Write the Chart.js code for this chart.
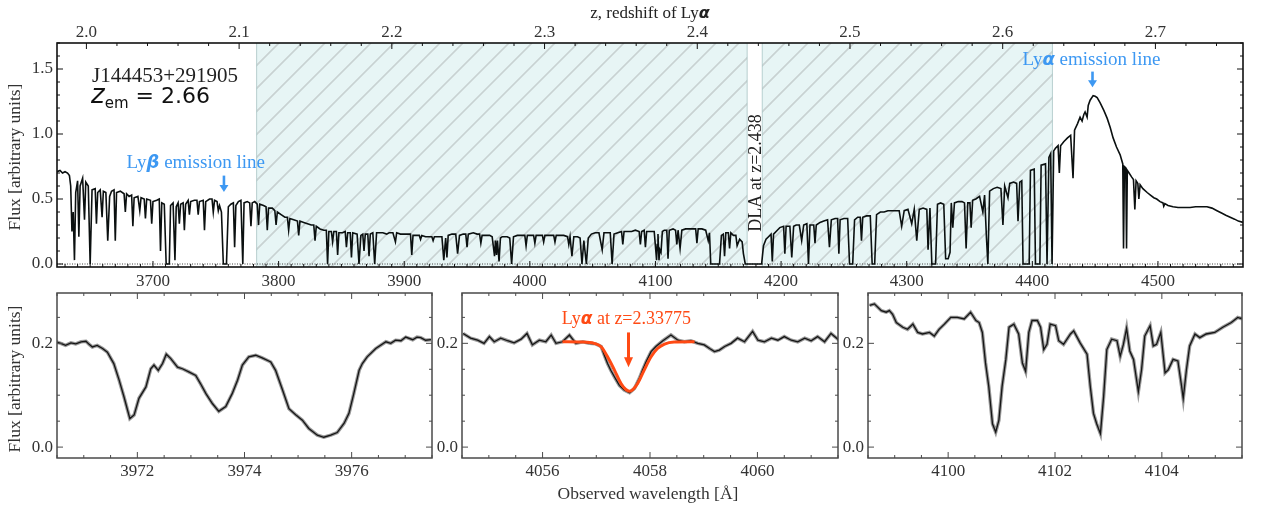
<!DOCTYPE html>
<html><head><meta charset="utf-8">
<script src="https://cdn.jsdelivr.net/npm/chart.js@4.4.0/dist/chart.umd.min.js"></script>
<style>
html,body{margin:0;padding:0;background:#fff;}
#wrap{position:relative;width:1264px;height:509px;overflow:hidden;}
canvas{position:absolute;left:0;top:0;}
</style></head><body>
<div id="wrap">
<canvas id="c0" width="1264" height="509"></canvas>
<canvas id="c1" width="1264" height="509"></canvas>
<canvas id="c2" width="1264" height="509"></canvas>
<canvas id="c3" width="1264" height="509"></canvas>
</div>
<script>
// ---------------- DATA ----------------
const LYA_REST = 1215.67;
const topRange = [3623.6, 4567.7];
const topFluxRange = [-0.023, 1.70];
const topWaveTicks = [3700, 3800, 3900, 4000, 4100, 4200, 4300, 4400, 4500];
const topFluxTicks = [0.0, 0.5, 1.0, 1.5];
const zTicks = [2.0, 2.1, 2.2, 2.3, 2.4, 2.5, 2.6, 2.7];
const lyaForestRegions = [[3782.5, 4173], [4185, 4416]];
const zeroLevel = [[3623.6, 0], [4567.7, 0]];

const topSpectrum = [
[3623.6,0.71],[3626,0.72],[3628,0.70],[3630,0.71],[3632,0.70],[3633.5,0.68],[3634.5,0.60],[3635.5,0.25],[3636.5,0.40],[3637.5,0.03],
[3638.5,0.55],[3640,0.64],[3641,0.21],[3642,0.60],[3644,0.66],[3645.5,0.34],[3646.5,0.63],[3648.5,0.60],[3650,0.0],[3651.5,0.57],
[3654,0.58],[3655,0.31],[3656,0.55],[3658,0.57],[3659.5,0.36],[3660.5,0.56],[3662.5,0.55],[3664,0.18],[3665.5,0.52],[3667,0.56],
[3669,0.57],[3670,0.18],[3671,0.55],[3674,0.56],[3677,0.54],[3678,0.40],[3679,0.54],[3681,0.52],[3683,0.53],[3684,0.29],
[3685,0.51],[3688,0.52],[3689.5,0.41],[3690.5,0.51],[3693,0.50],[3694,0.35],[3695,0.50],[3698,0.49],[3699,0.31],[3700,0.48],
[3703,0.49],[3705,0.50],[3706,0.10],[3707,0.47],[3709,0.46],[3710.5,0.0],[3713,0.0],[3714,0.45],[3716,0.47],[3717.5,0.03],
[3718.5,0.44],[3720,0.47],[3721,0.31],[3722,0.46],[3724,0.47],[3725,0.26],[3726,0.46],[3728,0.49],[3729,0.38],[3730,0.48],
[3733,0.49],[3735,0.49],[3736,0.38],[3737,0.48],[3740,0.49],[3741,0.26],[3742,0.48],[3745,0.50],[3747,0.50],[3748,0.40],
[3749,0.49],[3751,0.48],[3752,0.41],[3753,0.45],[3754.5,0.40],[3756,0.0],[3758.5,0.0],[3760,0.44],[3762,0.46],[3764,0.47],
[3765,0.13],[3766,0.45],[3768,0.48],[3770,0.49],[3771.5,0.0],[3772.5,0.47],[3775,0.48],[3777,0.47],[3778,0.29],[3779,0.47],
[3781,0.48],[3783,0.46],[3784,0.30],[3785,0.46],[3788,0.45],[3790,0.44],[3791,0.26],[3792,0.43],[3795,0.43],[3797,0.41],
[3798,0.30],[3799,0.40],[3802,0.38],[3805,0.36],[3807,0.36],[3808,0.26],[3809,0.35],[3812,0.34],[3815,0.33],[3816,0.22],
[3817,0.33],[3820,0.32],[3823,0.31],[3826,0.30],[3828,0.30],[3829,0.18],[3830,0.29],[3833,0.27],[3836,0.26],[3838,0.26],
[3839,0.0],[3840,0.25],[3842,0.25],[3843,0.17],[3844,0.25],[3846,0.25],[3847,0.07],[3848,0.24],[3851,0.24],[3853,0.25],
[3854,0.13],[3855,0.24],[3857,0.24],[3858,0.05],[3859,0.24],[3862.5,0.23],[3864,0.0],[3865.5,0.22],[3867,0.23],[3868,0.10],
[3869,0.23],[3871,0.23],[3872,0.06],[3873,0.23],[3875,0.24],[3876.5,0.0],[3878,0.24],[3880,0.24],[3883,0.24],[3886,0.23],
[3888,0.24],[3891,0.24],[3893,0.17],[3894,0.24],[3897,0.23],[3900,0.23],[3903,0.23],[3905,0.23],[3906,0.07],[3907,0.22],
[3910,0.22],[3912,0.22],[3913,0.19],[3914,0.22],[3917,0.21],[3920,0.21],[3922,0.21],[3923,0.18],[3924,0.21],[3927,0.21],
[3930,0.21],[3931.5,0.03],[3933,0.20],[3934,0.05],[3935,0.22],[3938,0.23],[3941,0.23],[3942.5,0.08],[3944,0.22],[3947,0.23],
[3949,0.23],[3950,0.13],[3951,0.23],[3955,0.24],[3958,0.23],[3960,0.23],[3961,0.16],[3962,0.22],[3965,0.22],[3968,0.22],
[3970,0.21],[3971.9,0.06],[3972.6,0.18],[3973.5,0.07],[3974.2,0.18],[3975.5,0.02],[3976.6,0.20],[3978,0.21],[3980,0.21],[3982,0.21],
[3984,0.20],[3985.5,0.0],[3987,0.21],[3990,0.22],[3993,0.22],[3996,0.22],[3997,0.14],[3998,0.22],[4001,0.22],[4003,0.22],
[4004,0.16],[4005,0.22],[4008,0.22],[4010,0.22],[4011,0.17],[4012,0.22],[4016,0.22],[4019,0.22],[4020,0.17],[4021,0.22],
[4024,0.22],[4027,0.22],[4030,0.21],[4031,0.15],[4032,0.21],[4033.5,0.06],[4035,0.21],[4038,0.21],[4040,0.20],[4041.5,0.0],
[4043,0.18],[4045,0.0],[4046.5,0.20],[4049,0.23],[4052,0.24],[4055,0.24],[4057.6,0.11],[4059,0.24],[4062,0.24],[4064,0.24],
[4065.5,0.0],[4067,0.23],[4070,0.24],[4073,0.25],[4074,0.15],[4075,0.25],[4078,0.25],[4081,0.25],[4084,0.26],[4087,0.25],
[4088,0.15],[4089,0.25],[4091,0.26],[4092,0.13],[4093,0.25],[4095,0.25],[4097,0.25],[4099,0.25],[4100.9,0.03],[4101.4,0.15],
[4102,0.23],[4102.8,0.03],[4103.5,0.11],[4104.4,0.09],[4105.5,0.25],[4107,0.26],[4109,0.26],[4110,0.04],[4111,0.26],[4114,0.27],
[4116,0.26],[4117,0.15],[4118,0.26],[4119.6,0.12],[4121,0.26],[4124,0.27],[4127,0.27],[4130,0.27],[4132,0.27],[4133,0.16],
[4134,0.27],[4137,0.27],[4140,0.26],[4142,0.18],[4143,0.24],[4144,0.0],[4151,0.0],[4152.5,0.22],[4154,0.23],[4155,0.06],
[4156,0.24],[4158,0.24],[4159,0.12],[4160,0.24],[4162,0.22],[4164,0.22],[4165,0.14],[4167,0.19],[4169,0.17],[4170,0.08],
[4171.5,0.0],[4184.5,0.0],[4186,0.14],[4188,0.19],[4190,0.21],[4192,0.23],[4193,0.02],[4194,0.23],[4197,0.26],[4199,0.28],
[4202,0.29],[4203,0.08],[4204,0.29],[4207,0.29],[4208.5,0.05],[4210,0.29],[4212,0.30],[4214.5,0.30],[4216.4,0.18],[4218,0.30],
[4220.5,0.31],[4221.8,0.0],[4223,0.30],[4226,0.30],[4227,0.16],[4228,0.30],[4231,0.32],[4234,0.33],[4237,0.34],[4238.5,0.13],
[4240,0.34],[4243,0.35],[4245,0.35],[4246,0.08],[4247,0.34],[4250,0.35],[4253,0.35],[4254.5,0.0],[4257,0.0],[4258.5,0.34],
[4261,0.36],[4263,0.36],[4264,0.18],[4265,0.36],[4268,0.37],[4271,0.37],[4272.5,0.0],[4274.5,0.0],[4276,0.38],[4279,0.40],
[4282,0.40],[4285,0.41],[4288,0.41],[4291,0.41],[4294,0.41],[4296,0.29],[4298,0.41],[4301,0.42],[4304,0.31],[4306,0.42],
[4308,0.18],[4310,0.42],[4313,0.43],[4316,0.42],[4317,0.11],[4318.5,0.43],[4320,0.0],[4323,0.0],[4324.5,0.46],[4327,0.47],
[4329.5,0.46],[4331,0.04],[4333,0.04],[4334.5,0.09],[4335.5,0.47],[4336.7,0.28],[4338,0.47],[4341,0.48],[4344,0.48],[4346,0.47],
[4347.3,0.12],[4348.6,0.47],[4350.3,0.47],[4351.3,0.28],[4352.5,0.49],[4355,0.50],[4358,0.52],[4360.6,0.40],[4362,0.53],[4363.5,0.20],
[4364.6,0.0],[4366,0.56],[4369,0.58],[4372,0.59],[4375,0.58],[4376.6,0.30],[4378,0.60],[4380.6,0.51],[4382,0.62],[4385,0.63],
[4387.5,0.62],[4388.6,0.33],[4390,0.63],[4391.6,0.64],[4392.6,0.0],[4397.5,0.0],[4398.5,0.72],[4401.5,0.73],[4402.5,0.0],[4406,0.0],
[4407,0.76],[4410.5,0.77],[4411.7,0.0],[4413.2,0.82],[4414.6,0.85],[4415.7,0.0],[4417,0.87],[4418.4,0.89],[4420.5,0.91],[4421.5,0.70],
[4422.5,0.91],[4425,0.94],[4428,0.97],[4430.5,0.99],[4432.4,0.66],[4433.6,1.03],[4436,1.08],[4438,1.13],[4439.6,1.10],[4441,1.15],
[4442,1.17],[4443.6,1.13],[4444.5,1.22],[4446,1.26],[4448.4,1.295],[4450,1.29],[4451.6,1.28],[4454,1.24],[4457,1.18],[4459.6,1.12],
[4462,1.05],[4464.3,0.97],[4467,0.90],[4469.9,0.84],[4472,0.77],[4472.6,0.12],[4473.3,0.75],[4474.4,0.74],[4475,0.12],[4475.6,0.72],
[4477,0.70],[4479,0.67],[4480.5,0.65],[4481.6,0.42],[4482.6,0.64],[4484,0.62],[4484.8,0.50],[4485.8,0.61],[4488,0.58],[4491.4,0.55],
[4494,0.53],[4496.7,0.51],[4499,0.50],[4501.7,0.48],[4504,0.47],[4504.6,0.445],[4505.5,0.465],[4508,0.45],[4512,0.44],[4516,0.435],
[4520,0.435],[4525.6,0.435],[4530,0.44],[4535,0.44],[4539,0.44],[4543,0.43],[4547,0.41],[4551,0.39],[4554,0.375],[4557.5,0.36],
[4561,0.345],[4564,0.33],[4567.7,0.32]
];

const zoomFluxRange = [-0.021, 0.297];
const zoomFluxTicks = [0.0, 0.2];

const panel1Range = [3970.5, 3977.5];
const panel1Ticks = [3972, 3974, 3976];
const panel1Spectrum = [
[3970.48,0.203],[3970.57,0.200],[3970.66,0.196],[3970.76,0.201],[3970.85,0.199],[3970.95,0.203],[3971.04,0.204],[3971.10,0.198],[3971.16,0.193],[3971.25,0.196],
[3971.35,0.190],[3971.44,0.183],[3971.56,0.161],[3971.66,0.129],[3971.75,0.097],[3971.81,0.074],[3971.86,0.055],[3971.94,0.062],[3972.03,0.094],[3972.16,0.116],
[3972.25,0.151],[3972.31,0.158],[3972.39,0.148],[3972.47,0.161],[3972.54,0.179],[3972.62,0.171],[3972.75,0.154],[3972.84,0.151],[3972.96,0.145],[3973.09,0.138],
[3973.18,0.122],[3973.28,0.103],[3973.40,0.084],[3973.52,0.069],[3973.65,0.078],[3973.77,0.103],[3973.87,0.129],[3973.96,0.158],[3974.08,0.174],[3974.21,0.177],
[3974.33,0.172],[3974.49,0.164],[3974.58,0.148],[3974.71,0.110],[3974.83,0.074],[3974.96,0.062],[3975.08,0.052],[3975.20,0.036],[3975.36,0.023],[3975.48,0.019],
[3975.61,0.023],[3975.73,0.028],[3975.86,0.046],[3975.95,0.065],[3976.04,0.103],[3976.14,0.148],[3976.20,0.161],[3976.29,0.174],[3976.45,0.190],[3976.64,0.203],
[3976.73,0.200],[3976.82,0.206],[3976.92,0.205],[3977.01,0.212],[3977.14,0.207],[3977.22,0.212],[3977.29,0.211],[3977.38,0.206],[3977.48,0.207]
];

const panel2Range = [4054.5, 4061.5];
const panel2Ticks = [4056, 4058, 4060];
const panel2Spectrum = [
[4054.52,0.219],[4054.66,0.210],[4054.79,0.206],[4054.91,0.200],[4055.01,0.213],[4055.10,0.203],[4055.22,0.210],[4055.35,0.205],[4055.47,0.201],[4055.60,0.208],
[4055.71,0.219],[4055.81,0.197],[4055.94,0.206],[4056.06,0.203],[4056.16,0.216],[4056.25,0.200],[4056.37,0.203],[4056.50,0.216],[4056.62,0.200],[4056.75,0.203],
[4056.87,0.200],[4056.99,0.199],[4057.09,0.194],[4057.15,0.177],[4057.21,0.161],[4057.27,0.148],[4057.34,0.135],[4057.43,0.119],[4057.52,0.110],[4057.62,0.105],
[4057.71,0.113],[4057.80,0.132],[4057.86,0.148],[4057.93,0.165],[4058.02,0.184],[4058.11,0.194],[4058.24,0.205],[4058.39,0.216],[4058.52,0.206],[4058.64,0.203],
[4058.76,0.205],[4058.89,0.200],[4059.01,0.197],[4059.11,0.190],[4059.20,0.184],[4059.29,0.187],[4059.39,0.194],[4059.51,0.200],[4059.63,0.210],[4059.76,0.203],
[4059.91,0.223],[4060.01,0.206],[4060.13,0.203],[4060.26,0.210],[4060.38,0.206],[4060.50,0.213],[4060.63,0.206],[4060.75,0.203],[4060.88,0.210],[4061.00,0.205],
[4061.12,0.213],[4061.25,0.203],[4061.37,0.219],[4061.52,0.206]
];
const panel2Fit = [
[4056.37,0.2032],[4056.71,0.2026],[4056.96,0.2000],[4057.09,0.1935],[4057.21,0.1740],[4057.34,0.1480],[4057.46,0.1226],[4057.55,0.1110],
[4057.62,0.1077],[4057.68,0.1110],[4057.77,0.1226],[4057.89,0.1480],[4058.02,0.1740],[4058.14,0.1900],[4058.27,0.1987],[4058.45,0.2026],[4058.83,0.2032]
];

const panel3Range = [4098.5, 4105.5];
const panel3Ticks = [4100, 4102, 4104];
const panel3Spectrum = [
[4098.53,0.273],[4098.62,0.276],[4098.75,0.263],[4098.84,0.260],[4098.90,0.263],[4098.96,0.256],[4099.03,0.240],[4099.15,0.231],[4099.24,0.227],[4099.34,0.237],
[4099.43,0.221],[4099.52,0.218],[4099.65,0.221],[4099.74,0.214],[4099.83,0.227],[4099.93,0.237],[4100.05,0.250],[4100.17,0.250],[4100.30,0.247],[4100.42,0.260],
[4100.52,0.244],[4100.58,0.240],[4100.64,0.221],[4100.70,0.162],[4100.76,0.117],[4100.83,0.045],[4100.89,0.029],[4100.95,0.052],[4101.01,0.117],[4101.08,0.169],
[4101.14,0.231],[4101.23,0.237],[4101.32,0.218],[4101.39,0.162],[4101.45,0.146],[4101.51,0.221],[4101.57,0.244],[4101.67,0.244],[4101.73,0.231],[4101.79,0.188],
[4101.85,0.198],[4101.91,0.237],[4102.01,0.234],[4102.07,0.205],[4102.16,0.198],[4102.29,0.218],[4102.35,0.224],[4102.47,0.201],[4102.60,0.179],[4102.66,0.117],
[4102.72,0.065],[4102.78,0.045],[4102.85,0.026],[4102.91,0.097],[4102.97,0.188],[4103.06,0.208],[4103.16,0.205],[4103.22,0.175],[4103.28,0.198],[4103.34,0.229],
[4103.40,0.185],[4103.47,0.169],[4103.56,0.107],[4103.62,0.149],[4103.68,0.214],[4103.78,0.234],[4103.84,0.195],[4103.90,0.198],[4103.98,0.221],[4104.06,0.143],
[4104.12,0.149],[4104.21,0.169],[4104.30,0.166],[4104.37,0.117],[4104.40,0.094],[4104.46,0.149],[4104.52,0.195],[4104.62,0.218],[4104.71,0.211],[4104.83,0.218],
[4104.99,0.221],[4105.14,0.231],[4105.30,0.240],[4105.42,0.250],[4105.50,0.247]
];

// ---------------- HELPERS ----------------
const SERIF = "'Liberation Serif','DejaVu Serif',serif";
const SANS = "'DejaVu Sans',sans-serif";
const toXY = arr => arr.map(p => ({x: p[0], y: p[1]}));
const fixTicks = vals => (s => { s.ticks = vals.map(v => ({value: v})); });

function drawRich(ctx, parts, x, y, align, color) {
  ctx.fillStyle = color; ctx.textBaseline = 'alphabetic'; ctx.textAlign = 'left';
  let w = 0;
  parts.forEach(p => { ctx.font = p.f; w += ctx.measureText(p.t).width; });
  let cx = align === 'center' ? x - w / 2 : x;
  parts.forEach(p => { ctx.font = p.f; ctx.fillText(p.t, cx, y + (p.dy || 0)); cx += ctx.measureText(p.t).width; });
}

function tickList(min, max, minor, major) {
  const out = [];
  for (let i = Math.ceil(min / minor - 1e-9); i * minor <= max + 1e-9; i++) {
    const v = i * minor;
    out.push({v, major: Math.abs(v / major - Math.round(v / major)) < 1e-6});
  }
  return out;
}

const framePlugin = {
  id: 'frame',
  beforeDatasetsDraw(chart, args, o) {
    const {ctx, chartArea: a} = chart;
    if (o.hatch) {
      const xs = chart.scales.x;
      ctx.save();
      o.hatch.forEach(r => {
        const x0 = xs.getPixelForValue(r[0]), x1 = xs.getPixelForValue(r[1]);
        ctx.fillStyle = 'rgb(231,245,245)';
        ctx.fillRect(x0, a.top, x1 - x0, a.bottom - a.top);
        ctx.save();
        ctx.beginPath(); ctx.rect(x0, a.top, x1 - x0, a.bottom - a.top); ctx.clip();
        ctx.strokeStyle = 'rgb(200,210,210)'; ctx.lineWidth = 1.7;
        ctx.beginPath();
        const step = 23;
        for (let c = Math.floor((x0 + a.top) / step) * step; c <= x1 + a.bottom; c += step) {
          ctx.moveTo(c - a.bottom, a.bottom); ctx.lineTo(c - a.top, a.top);
        }
        ctx.stroke();
        ctx.restore();
        ctx.strokeStyle = 'rgba(160,190,190,0.7)'; ctx.lineWidth = 1;
        ctx.beginPath();
        ctx.moveTo(x0, a.top); ctx.lineTo(x0, a.bottom);
        ctx.moveTo(x1, a.top); ctx.lineTo(x1, a.bottom);
        ctx.stroke();
      });
      ctx.restore();
    }
  },
  afterDatasetsDraw(chart, args, o) {
    const {ctx, chartArea: a} = chart;
    const xs = chart.scales.x, ys = chart.scales.y;
    ctx.save();
    ctx.strokeStyle = o.frameColor; ctx.lineWidth = o.frameWidth;
    ctx.strokeRect(a.left, a.top, a.right - a.left, a.bottom - a.top);
    ctx.lineWidth = 1; ctx.strokeStyle = o.frameColor;
    ctx.beginPath();
    tickList(xs.min, xs.max, o.xMinor, o.xMajor).forEach(t => {
      const px = xs.getPixelForValue(t.v), L = t.major ? 6 : 3;
      ctx.moveTo(px, a.bottom); ctx.lineTo(px, a.bottom - L);
      if (!o.topScale) { ctx.moveTo(px, a.top); ctx.lineTo(px, a.top + L); }
    });
    if (o.topScale) {
      const ts = chart.scales[o.topScale];
      tickList(ts.min, ts.max, o.topMinor, o.topMajor).forEach(t => {
        const px = ts.getPixelForValue(t.v), L = t.major ? 6 : 3;
        ctx.moveTo(px, a.top); ctx.lineTo(px, a.top + L);
      });
    }
    tickList(ys.min, ys.max, o.yMinor, o.yMajor).forEach(t => {
      const py = ys.getPixelForValue(t.v), L = t.major ? 6 : 3;
      ctx.moveTo(a.left, py); ctx.lineTo(a.left + L, py);
      ctx.moveTo(a.right, py); ctx.lineTo(a.right - L, py);
    });
    ctx.stroke();
    (o.arrows || []).forEach(ar => {
      const px = xs.getPixelForValue(ar.x), p0 = ys.getPixelForValue(ar.y0), p1 = ys.getPixelForValue(ar.y1);
      ctx.strokeStyle = ar.color; ctx.fillStyle = ar.color; ctx.lineWidth = ar.w;
      ctx.beginPath(); ctx.moveTo(px, p0); ctx.lineTo(px, p1 - ar.hl + 1); ctx.stroke();
      ctx.beginPath(); ctx.moveTo(px - ar.hw / 2, p1 - ar.hl); ctx.lineTo(px + ar.hw / 2, p1 - ar.hl); ctx.lineTo(px, p1); ctx.closePath(); ctx.fill();
    });
    (o.texts || []).forEach(t => {
      const px = xs.getPixelForValue(t.x), py = ys.getPixelForValue(t.y);
      if (t.rotate) {
        ctx.save(); ctx.translate(px, py); ctx.rotate(-Math.PI / 2);
        drawRich(ctx, t.parts, 0, t.base || 0, 'center', t.color);
        ctx.restore();
      } else {
        drawRich(ctx, t.parts, px, py, t.align || 'center', t.color);
      }
    });
    (o.pageTexts || []).forEach(t => {
      if (t.rotate) {
        ctx.save(); ctx.translate(t.x, t.y); ctx.rotate(-Math.PI / 2);
        drawRich(ctx, t.parts, 0, 0, 'center', t.color); ctx.restore();
      } else drawRich(ctx, t.parts, t.x, t.y, t.align || 'center', t.color);
    });
    ctx.restore();
  }
};

const tickFont = {family: SERIF, size: 17};
const TICKCOL = '#333';

function baseScales(xr, xt, yr, yt, yWidth, xHeight, xPad) {
  return {
    x: {type: 'linear', position: 'bottom', min: xr[0], max: xr[1],
        grid: {display: false, drawTicks: false}, border: {display: false},
        afterBuildTicks: fixTicks(xt),
        ticks: {font: tickFont, color: TICKCOL, padding: xPad, maxRotation: 0, autoSkip: false, callback: v => String(v)},
        afterFit: s => { s.height = xHeight; }},
    y: {type: 'linear', position: 'left', min: yr[0], max: yr[1],
        grid: {display: false, drawTicks: false}, border: {display: false},
        afterBuildTicks: fixTicks(yt),
        ticks: {font: tickFont, color: TICKCOL, padding: 4, autoSkip: false, callback: v => v.toFixed(1)},
        afterFit: s => { s.width = yWidth; }}
  };
}

const common = {responsive: false, animation: false, events: [], maintainAspectRatio: false};

// ---------------- TOP PANEL ----------------
const topScales = baseScales(topRange, topWaveTicks, topFluxRange, topFluxTicks, 57, 23, 4);
topScales.x2 = {type: 'linear', position: 'top', min: topRange[0] / LYA_REST - 1, max: topRange[1] / LYA_REST - 1,
  grid: {display: false, drawTicks: false}, border: {display: false},
  afterBuildTicks: fixTicks(zTicks),
  ticks: {font: tickFont, color: TICKCOL, padding: 0, autoSkip: false, maxRotation: 0, callback: v => v.toFixed(1)},
  afterFit: s => { s.height = 43; }};

const BLUE = '#3d98f2';
const RED = '#ff4a14';
new Chart(document.getElementById('c0'), {
  type: 'line',
  data: {datasets: [
    {data: toXY(topSpectrum), borderColor: '#0b1010', borderWidth: 1.6, pointRadius: 0, tension: 0},
    {data: toXY(zeroLevel), borderColor: '#444', borderWidth: 1, borderDash: [1, 1.5], pointRadius: 0}
  ]},
  options: Object.assign({}, common, {
    layout: {padding: {left: 0, right: 21, top: 0, bottom: 219}},
    scales: topScales,
    plugins: {legend: {display: false}, tooltip: {enabled: false},
      frame: {frameColor: '#111', frameWidth: 1.6, xMinor: 10, xMajor: 100, yMinor: 0.1, yMajor: 0.5,
        topScale: 'x2', topMinor: 0.02, topMajor: 0.1,
        hatch: lyaForestRegions,
        arrows: [
          {x: 3756.5, y0: 0.68, y1: 0.554, color: BLUE, w: 2.6, hw: 9, hl: 7},
          {x: 4447.9, y0: 1.48, y1: 1.36, color: BLUE, w: 2.6, hw: 9, hl: 7}
        ],
        texts: [
          {x: 3734, y: 0.74, color: BLUE, parts: [{t: 'Ly', f: '19px ' + SERIF}, {t: 'β', f: 'bold italic 18px ' + SANS}, {t: ' emission line', f: '19px ' + SERIF}]},
          {x: 4447, y: 1.53, color: BLUE, parts: [{t: 'Ly', f: '19px ' + SERIF}, {t: 'α', f: 'bold italic 18px ' + SANS}, {t: ' emission line', f: '19px ' + SERIF}]},
          {x: 4179.4, y: 0.70, rotate: true, base: 6, color: '#222', parts: [{t: 'DLA at z=2.438', f: '18px ' + SERIF}]}
        ],
        pageTexts: [
          {x: 92, y: 82, align: 'left', color: '#222', parts: [{t: 'J144453+291905', f: '21px ' + SERIF}]},
          {x: 91, y: 103, align: 'left', color: '#111', parts: [{t: 'z', f: 'italic 26px ' + SANS}, {t: 'em', f: '15px ' + SANS, dy: 5}, {t: ' = 2.66', f: '22px ' + SANS}]},
          {x: 650, y: 18, color: '#222', parts: [{t: 'z, redshift of Ly', f: '17px ' + SERIF}, {t: 'α', f: 'bold italic 16px ' + SANS}]},
          {x: 20, y: 157, rotate: true, color: '#333', parts: [{t: 'Flux [arbitrary units]', f: '17.5px ' + SERIF}]}
        ]
      }}
  }),
  plugins: [framePlugin]
});

// ---------------- ZOOM PANELS ----------------
function zoomPanel(id, range, ticks, spec, padL, yW, padR, extra) {
  const ds = [];
  (extra.datasets || []).forEach(d => ds.push(d));
  ds.push({data: toXY(spec), borderColor: '#151515', borderWidth: 1.3, pointRadius: 0});
  ds.push({data: toXY(spec), borderColor: '#999', borderWidth: 3.5, pointRadius: 0});
  new Chart(document.getElementById(id), {
    type: 'line',
    data: {datasets: ds},
    options: Object.assign({}, common, {
      layout: {padding: {left: padL, right: padR, top: 293, bottom: 31}},
      scales: baseScales(range, ticks, zoomFluxRange, zoomFluxTicks, yW, 20, 3),
      plugins: {legend: {display: false}, tooltip: {enabled: false},
        frame: Object.assign({frameColor: '#4a4a4a', frameWidth: 1.5, xMinor: 0.5, xMajor: 2, yMinor: 0.05, yMajor: 0.2}, extra.frame || {})}
    }),
    plugins: [framePlugin]
  });
}

zoomPanel('c1', panel1Range, panel1Ticks, panel1Spectrum, 0, 57, 832, {frame: {
  pageTexts: [{x: 20, y: 379, rotate: true, color: '#333', parts: [{t: 'Flux [arbitrary units]', f: '17.5px ' + SERIF}]}]
}});
zoomPanel('c2', panel2Range, panel2Ticks, panel2Spectrum, 432, 30, 426, {
  datasets: [{data: toXY(panel2Fit), borderColor: RED, borderWidth: 3, pointRadius: 0, tension: 0.4, cubicInterpolationMode: 'monotone'}],
  frame: {
    arrows: [{x: 4057.6, y0: 0.221, y1: 0.154, color: RED, w: 3, hw: 9, hl: 10}],
    texts: [{x: 4057.56, y: 0.238, color: RED, parts: [{t: 'Ly', f: '18px ' + SERIF}, {t: 'α', f: 'bold italic 17px ' + SANS}, {t: ' at z=2.33775', f: '18px ' + SERIF}]}],
    pageTexts: [{x: 648, y: 499, color: '#333', parts: [{t: 'Observed wavelength [Å]', f: '17.5px ' + SERIF}]}]
  }
});
zoomPanel('c3', panel3Range, panel3Ticks, panel3Spectrum, 838, 30, 22, {});
</script>
</body></html>
